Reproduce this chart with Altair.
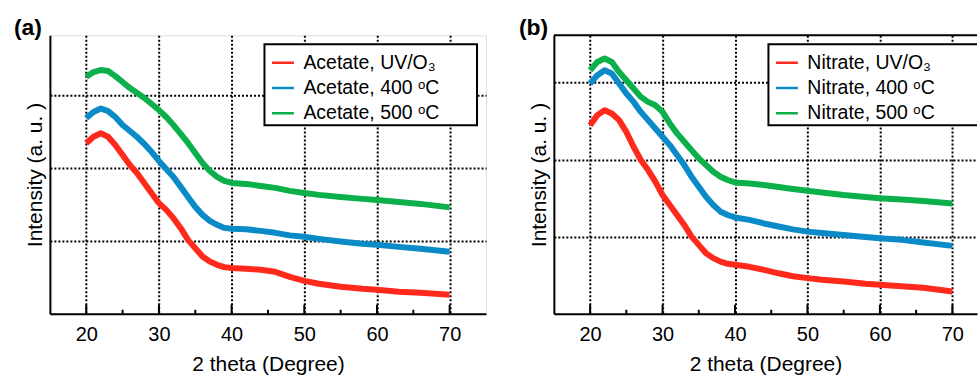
import altair as alt
import pandas as pd

FONT = "Liberation Sans"

# 2-theta positions (degree) at which the curves were read
two_theta = [20, 21, 22, 23, 24, 25, 26, 27, 28, 29, 30, 31, 32, 33, 34, 35, 36, 37, 38, 39, 40,
             42, 44, 46, 48, 50, 52, 55, 58, 60, 63, 66, 70]

# Panel (a): acetate precursor (intensity, a.u.)
acetate_uv = [2.345, 2.435, 2.482, 2.435, 2.321, 2.184, 2.047, 1.933, 1.795, 1.658, 1.521,
              1.429, 1.315, 1.177, 1.016, 0.902, 0.787, 0.718, 0.673, 0.641, 0.628,
              0.618, 0.604, 0.577, 0.508, 0.453, 0.412, 0.371, 0.343, 0.330, 0.302, 0.288, 0.261]
acetate_400 = [2.692, 2.775, 2.823, 2.788, 2.706, 2.596, 2.514, 2.431, 2.335, 2.225, 2.102,
               1.992, 1.882, 1.745, 1.607, 1.470, 1.360, 1.277, 1.223, 1.181, 1.168,
               1.161, 1.140, 1.113, 1.078, 1.058, 1.030, 0.993, 0.962, 0.948, 0.920, 0.893, 0.852]
acetate_500 = [3.260, 3.324, 3.352, 3.338, 3.269, 3.187, 3.104, 3.036, 2.967, 2.885, 2.802,
               2.706, 2.596, 2.473, 2.349, 2.212, 2.074, 1.964, 1.882, 1.827, 1.799,
               1.786, 1.758, 1.731, 1.690, 1.662, 1.635, 1.607, 1.580, 1.566, 1.538, 1.511, 1.463]

# Panel (b): nitrate precursor (intensity, a.u.)
nitrate_uv = [2.448, 2.578, 2.642, 2.600, 2.513, 2.361, 2.167, 1.995, 1.865, 1.714, 1.541,
              1.412, 1.282, 1.153, 1.001, 0.894, 0.786, 0.722, 0.677, 0.648, 0.635,
              0.609, 0.570, 0.525, 0.486, 0.462, 0.440, 0.418, 0.389, 0.376, 0.356, 0.337, 0.289]
nitrate_400 = [2.988, 3.096, 3.161, 3.118, 2.988, 2.859, 2.750, 2.620, 2.513, 2.405, 2.297,
               2.189, 2.060, 1.930, 1.779, 1.649, 1.519, 1.412, 1.325, 1.282, 1.250,
               1.218, 1.172, 1.133, 1.095, 1.066, 1.049, 1.023, 0.997, 0.981, 0.959, 0.926, 0.881]
nitrate_500 = [3.161, 3.268, 3.312, 3.268, 3.139, 3.031, 2.924, 2.815, 2.750, 2.707, 2.620,
               2.470, 2.341, 2.232, 2.124, 2.017, 1.930, 1.843, 1.779, 1.736, 1.703,
               1.690, 1.671, 1.645, 1.619, 1.597, 1.574, 1.541, 1.516, 1.499, 1.483, 1.464, 1.431]

labels_a = ["Acetate, UV/O\u2083", "Acetate, 400 \u1d52C", "Acetate, 500 \u1d52C"]
labels_b = ["Nitrate, UV/O\u2083", "Nitrate, 400 \u1d52C", "Nitrate, 500 \u1d52C"]
colors = ["#FF2A1C", "#0A8BC8", "#0CB04A"]

x_major = [20, 30, 40, 50, 60, 70]
x_minor = [25, 35, 45, 55, 65]
y_grid = [1, 2, 3]


def long_df(labels, series):
    rows = []
    for lab, vals in zip(labels, series):
        for xv, yv in zip(two_theta, vals):
            rows.append({"x": xv, "y": yv, "series": lab})
    return pd.DataFrame(rows)


def panel(labels, series, x_max, y_max, width, height, tag, tag_dx, box_x2, framed):
    df = long_df(labels, series)
    grid = dict(grid=True, gridColor="black", gridDash=[2, 2], gridWidth=2, gridOpacity=1,
                domain=True, domainColor="black", domainWidth=2, ticks=False, tickSize=0)
    x_enc = alt.X("x:Q", scale=alt.Scale(domain=[15, x_max], nice=False, zero=False),
                  axis=alt.Axis(values=x_major, labelFont=FONT, labelFontSize=20, labelColor="black",
                                labelPadding=11, title="2 theta (Degree)", titleFont=FONT,
                                titleFontSize=21, titleFontWeight="normal", titleColor="black",
                                titlePadding=9, **grid))
    y_enc = alt.Y("y:Q", scale=alt.Scale(domain=[0, y_max], nice=False, zero=False),
                  axis=alt.Axis(values=y_grid, labels=False, title="Intensity (a. u. )",
                                titleFont=FONT, titleFontSize=21, titleFontWeight="normal",
                                titleColor="black", titlePadding=4, **grid))

    box = alt.Chart(pd.DataFrame({"k": [0]})).mark_rect(
        fill="white", stroke="black", strokeWidth=2, clip=True
    ).encode(x=alt.value(215), x2=alt.value(box_x2), y=alt.value(9), y2=alt.value(90))

    lines = alt.Chart(df).mark_line(strokeWidth=6, strokeJoin="round").encode(
        x=x_enc, y=y_enc,
        color=alt.Color("series:N", sort=labels,
                        scale=alt.Scale(domain=labels, range=colors),
                        legend=alt.Legend(orient="none", legendX=213, legendY=7, title=None,
                                          symbolType="stroke", symbolSize=484,
                                          symbolStrokeWidth=2.5, labelFont=FONT,
                                          labelFontSize=19.5, labelColor="black",
                                          labelLimit=400, padding=8, rowPadding=3.3,
                                          labelOffset=8)),
        detail="series:N",
    )

    major = alt.Chart(pd.DataFrame({"x": x_major})).mark_rule(color="black", strokeWidth=2).encode(
        x=x_enc, y=alt.value(height), y2=alt.value(height - 9))
    minor = alt.Chart(pd.DataFrame({"x": x_minor})).mark_rule(color="black", strokeWidth=2).encode(
        x=x_enc, y=alt.value(height), y2=alt.value(height - 4))

    tag_mark = alt.Chart(pd.DataFrame({"tag": [tag]})).mark_text(
        font=FONT, fontSize=23, fontWeight="bold", color="black", align="left",
        baseline="alphabetic"
    ).encode(text="tag:N", x=alt.value(tag_dx), y=alt.value(0))

    layers = [box, lines, major, minor, tag_mark]
    if not framed:
        top = alt.Chart(pd.DataFrame({"k": [0]})).mark_rule(color="black", strokeWidth=2).encode(
            x=alt.value(0), x2=alt.value(width), y=alt.value(0))
        layers.append(top)

    ch = alt.layer(*layers).properties(width=width, height=height)
    if not framed:
        ch = ch.properties(view=alt.ViewBackground(stroke="transparent"))
    return ch


pa = panel(labels_a, [acetate_uv, acetate_400, acetate_500], 75, 3.83, 437, 279,
           "(a)", -36, 428, True)
pb = panel(labels_b, [nitrate_uv, nitrate_400, nitrate_500], 73.4, 3.614, 424, 279,
           "(b)", -35, 440, False)

chart = alt.hconcat(pa, pb, spacing=31).resolve_scale(
    x="independent", y="independent", color="independent"
).properties(
    padding={"left": 13, "top": 16, "right": 0, "bottom": 0}
).configure_view(stroke="black", strokeWidth=2).configure(background="white")

chart.save("out.html", embed_options={"renderer": "svg", "actions": False})
